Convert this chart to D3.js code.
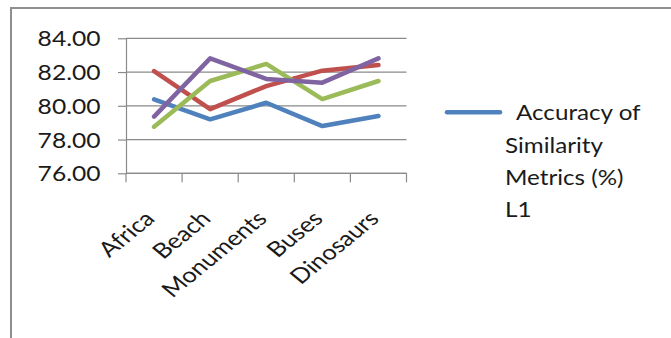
<!DOCTYPE html>
<html><head><meta charset="utf-8">
<script src="https://cdn.jsdelivr.net/npm/d3@7"></script>
<style>
body{margin:0;background:#fff}
svg{display:block}
text{font-family:Lato, "Open Sans", sans-serif; fill:#1a1a1a}
</style>
</head><body>
<svg id="c" width="671" height="338"></svg>
<script>
// ---- data ----
const categories = ["Africa", "Beach", "Monuments", "Buses", "Dinosaurs"];
const seriesBlue   = [80.38, 79.20, 80.18, 78.80, 79.40]; // Accuracy of Similarity Metrics (%) L1
const seriesRed    = [82.06, 79.80, 81.17, 82.08, 82.42];
const seriesGreen  = [78.76, 81.47, 82.48, 80.40, 81.47];
const seriesPurple = [79.36, 82.81, 81.59, 81.37, 82.81];
const yTicks = [76, 78, 80, 82, 84];
const legendLines = ["Accuracy of", "Similarity", "Metrics (%)", "L1"];

const series = [
  {name: "L1", values: seriesBlue, color: "#4F81BD"},
  {name: "S2", values: seriesRed, color: "#C0504D"},
  {name: "S3", values: seriesGreen, color: "#9BBB59"},
  {name: "S4", values: seriesPurple, color: "#8064A2"}
];

const svg = d3.select("#c");

// outer chart border (only left/top visible)
svg.append("rect").attr("x", 11).attr("y", 8).attr("width", 700).attr("height", 400)
  .attr("fill", "none").attr("stroke", "#8f8f8f").attr("stroke-width", 2);

const x = d3.scaleBand().domain(categories).range([126, 406.5]);
const y = d3.scaleLinear().domain([76, 84]).range([173.3, 38.3]);

// gridlines
svg.append("g").selectAll("line").data(yTicks).join("line")
  .attr("x1", 126).attr("x2", 406.5)
  .attr("y1", d => y(d)).attr("y2", d => y(d))
  .attr("stroke", "#8a8a8a").attr("stroke-width", 1.2);

// y axis
const yAxis = svg.append("g").attr("transform", "translate(126,0)")
  .call(d3.axisLeft(y).tickValues(yTicks).tickSize(8).tickSizeOuter(0).tickFormat(d3.format(".2f")));
yAxis.select(".domain").attr("stroke", "#8a8a8a").attr("stroke-width", 1.2);
yAxis.selectAll(".tick line").attr("stroke", "#8a8a8a").attr("stroke-width", 1.2);
yAxis.selectAll(".tick text")
  .attr("x", null).attr("dy", null)
  .attr("transform", "translate(-25.5,7.5) scale(1.15,1)")
  .attr("text-anchor", "end")
  .style("font-size", "21.4px").style("font-family", "Lato, sans-serif").attr("fill", "#1a1a1a");

// x axis line + boundary ticks
const bounds = d3.range(categories.length + 1).map(i => x.range()[0] + i * x.step());
svg.append("line").attr("x1", 126).attr("x2", 406.5).attr("y1", y(76)).attr("y2", y(76))
  .attr("stroke", "#8a8a8a").attr("stroke-width", 1.2);
svg.append("g").selectAll("line").data(bounds).join("line")
  .attr("x1", d => d).attr("x2", d => d).attr("y1", y(76)).attr("y2", y(76) + 9)
  .attr("stroke", "#8a8a8a").attr("stroke-width", 1.2);

// category labels (rotated, stretched)
svg.append("g").selectAll("text").data(categories).join("text")
  .attr("transform", d => "translate(" + (x(d) + x.bandwidth() / 2 + 2) + "," + 220 + ") scale(1.22,1) rotate(-45)")
  .attr("text-anchor", "end")
  .style("font-size", "21px")
  .text(d => d);

// lines
const line = d3.line()
  .x((d, i) => x(categories[i]) + x.bandwidth() / 2)
  .y(d => y(d));
svg.append("g").selectAll("path").data(series).join("path")
  .attr("d", d => line(d.values))
  .attr("fill", "none")
  .attr("stroke", d => d.color)
  .attr("stroke-width", 4.5)
  .attr("stroke-linecap", "round")
  .attr("stroke-linejoin", "round");

// legend
const lg = svg.append("g");
lg.append("line").attr("x1", 447).attr("x2", 500).attr("y1", 112.3).attr("y2", 112.3)
  .attr("stroke", series[0].color).attr("stroke-width", 4.5).attr("stroke-linecap", "round");
const lx = [516, 505, 505, 505];
const ly = [120, 152.7, 185.3, 217.3];
lg.selectAll("text").data(legendLines).join("text")
  .attr("transform", (d, i) => "translate(" + lx[i] + "," + ly[i] + ") scale(1.1,1)")
  .style("font-size", "22px")
  .text(d => d);
</script>
</body></html>
